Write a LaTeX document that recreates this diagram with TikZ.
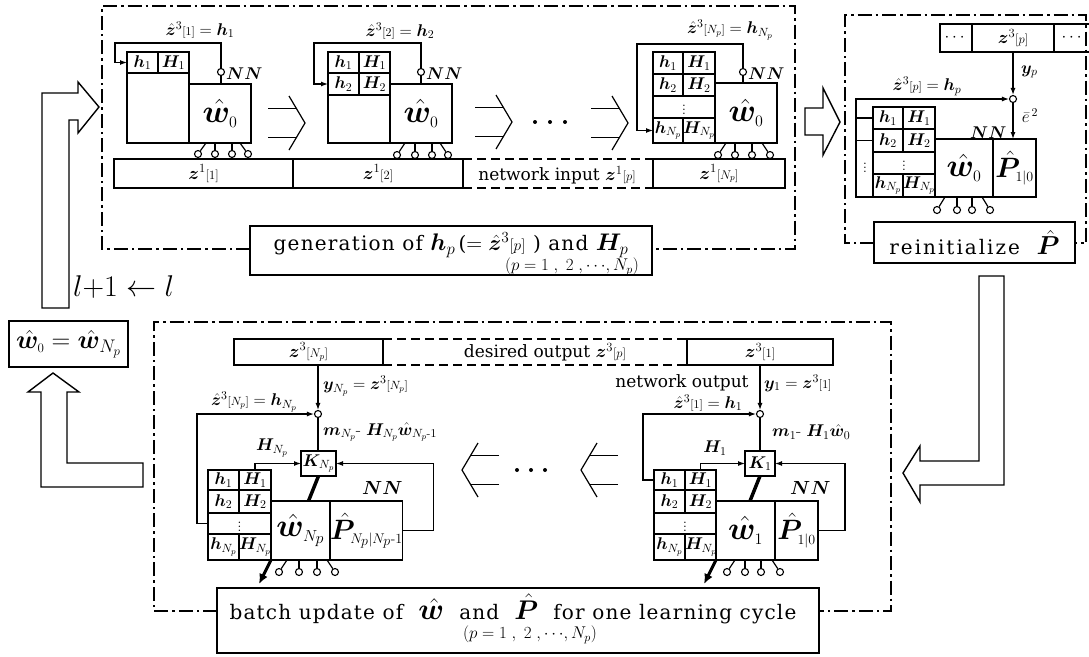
\RequirePackage{fix-cm}
\documentclass[tikz,border=0pt]{standalone}
\usepackage{amsmath,bm}
\usepackage{fontspec}
\usetikzlibrary{arrows.meta}

\newfontfamily\capfont{DejaVu Serif}[LetterSpace=6]
\newfontfamily\wcapfont{DejaVu Serif}[LetterSpace=10]
\newfontfamily\lblfont{DejaVu Serif}

\newcommand\fsz[1]{\fontsize{#1}{#1}\selectfont}
\newcommand\ix[1]{{\scriptstyle[#1]}}
\newcommand\hz{\hat{\bm z}}
\newcommand\hw{\hat{\bm w}}
\newcommand\hP{\hat{\bm P}}

\tikzset{
  ln/.style={line width=1.2pt},
  cellbox/.style={draw, line width=1.2pt, inner sep=0pt, outer sep=0pt,
    anchor=north west, font=\fsz{17}},
  fb/.style={line width=1.2pt, -{Latex[length=7pt,width=5pt]}},
  junc/.style={circle, draw, line width=1.1pt, fill=white, inner sep=0pt,
    minimum size=7pt},
  frm/.style={line width=1.3pt, dash pattern=on 14pt off 4pt on 2.5pt off 4pt},
  dsh/.style={line width=1.3pt, dash pattern=on 9pt off 5pt},
  hollow/.style={draw, line width=1.4pt, fill=white, line join=miter},
  lab/.style={inner sep=0pt, font=\fsz{17}},
  nnlab/.style={inner sep=0pt, font=\fsz{17}, anchor=west},
  capbox/.style={draw, line width=1.3pt, fill=white, inner sep=0pt,
    outer sep=0pt, anchor=north west},
  captext/.style={inner sep=0pt, font=\capfont\fsz{20}},
  subtext/.style={inner sep=0pt, font=\fsz{17}},
  txt/.style={inner sep=0pt, font=\lblfont\fsz{17}},
  dot/.style={circle, fill, inner sep=0pt, minimum size=4pt},
  thick link/.style={line width=3.5pt},
  out arrow/.style={line width=3pt, -{Latex[length=10pt,width=9pt]}},
}
% rectangle node given by its corners
\newcommand\tcell[6]{\node[cellbox, minimum width={#4-#2}, minimum height={#5-#3}] (#1) at (#2,#3) {#6};}
% four output neurons under a weight box
\newcommand\neurons[7]{%
  \node[junc] (#1a) at (#4,#3) {};
  \node[junc] (#1b) at (#5,#3) {};
  \node[junc] (#1c) at (#6,#3) {};
  \node[junc] (#1d) at (#7,#3) {};
  \draw[ln] (#4+8,#2) -- (#1a);
  \draw[ln] (#5,#2) -- (#1b);
  \draw[ln] (#6,#2) -- (#1c);
  \draw[ln] (#7-8,#2) -- (#1d);}
% open chevron arrows
\newcommand\chevR[2]{%
  \draw[ln] (#1-16,#2-27) -- (#1,#2) -- (#1-16,#2+27);
  \draw[ln] (#1-37,#2-14.5) -- (#1-8.4,#2-14.5);
  \draw[ln] (#1-37,#2+14.5) -- (#1-8.4,#2+14.5);}
\newcommand\chevL[2]{%
  \draw[ln] (#1+16,#2-27) -- (#1,#2) -- (#1+16,#2+27);
  \draw[ln] (#1+37,#2-14.5) -- (#1+8.4,#2-14.5);
  \draw[ln] (#1+37,#2+14.5) -- (#1+8.4,#2+14.5);}
\newcommand\plist{$(p=1\;,\;2\;,\cdots\!,N_p)$}

\begin{document}
\begin{tikzpicture}[x=1pt,y=-1pt]
\useasboundingbox (0,0) rectangle (1089,656);
\fill[white] (0,0) rectangle (1089,656);

% ================= generation of h_p and H_p =================
\draw[frm] (250,249) -- (102,249) -- (102,6) -- (795,6) -- (795,249) -- (652,249);
\node[capbox, minimum width=402, minimum height=49] (gen) at (250,226) {};
\node[captext] (gent) at (451,245)
  {generation of {\fsz{24}$\bm h_p$}\,({\fsz{22}$=\hz^{3}\ix{p}$} ) and {\fsz{24}$\bm H_p$}};
\node[subtext] (gens) at (572,267) {\plist};

% block p = 1
\tcell{a1h}{127}{52}{158}{73}{$\bm h_{1}$}
\tcell{a1H}{158}{52}{189}{73}{$\bm H_{1}$}
\tcell{a1e}{127}{73}{189}{143}{}
\tcell{aW}{189}{84}{251}{143}{\fsz{32}$\hw_{\scriptscriptstyle 0}$}
\node[junc] (aJ) at (221,72) {};
\draw[ln] (aJ) -- (aJ |- aW.north);
\node[nnlab] (aN) at (226,74) {$\bm{NN}$};
\draw[fb] (aJ.north) |- (115,43) |- (a1h.west);
\node[lab] (aL) at (200,30) {$\hz^{3}\ix{1} = \bm h_{1}$};
\neurons{an}{143}{154}{198}{215}{232}{248}
\chevR{305}{123}

% block p = 2
\tcell{b1h}{328}{52}{359}{73}{$\bm h_{1}$}
\tcell{b1H}{359}{52}{390}{73}{$\bm H_{1}$}
\tcell{b2h}{328}{73}{359}{95}{$\bm h_{2}$}
\tcell{b2H}{359}{73}{390}{95}{$\bm H_{2}$}
\tcell{b2e}{328}{95}{390}{143}{}
\tcell{bW}{390}{84}{452}{143}{\fsz{32}$\hw_{\scriptscriptstyle 0}$}
\node[junc] (bJ) at (421,72) {};
\draw[ln] (bJ) -- (bJ |- bW.north);
\node[nnlab] (bN) at (426,74) {$\bm{NN}$};
\draw[fb] (bJ.north) |- (314,43) |- (b2h.west);
\node[lab] (bL) at (400,31) {$\hz^{3}\ix{2} = \bm h_{2}$};
\neurons{bn}{143}{155}{397}{415}{432}{448}
\chevR{512}{122}
\foreach \d [count=\k] in {535,550,565} \node[dot] (td\k) at (\d,122) {};
\chevR{628}{123}

% block p = N_p
\tcell{c1h}{653}{52}{683}{74}{$\bm h_{1}$}
\tcell{c1H}{683}{52}{715}{74}{$\bm H_{1}$}
\tcell{c2h}{653}{74}{683}{96}{$\bm h_{2}$}
\tcell{c2H}{683}{74}{715}{96}{$\bm H_{2}$}
\tcell{c3}{653}{96}{715}{118}{$\vdots$}
\tcell{cNh}{653}{118}{683}{143}{$\bm h_{N_p}$}
\tcell{cNH}{683}{118}{715}{143}{$\bm H_{N_p}$}
\tcell{cW}{715}{83}{777}{143}{\fsz{32}$\hw_{\scriptscriptstyle 0}$}
\node[junc] (cJ) at (743,72) {};
\draw[ln] (cJ) -- (cJ |- cW.north);
\node[nnlab] (cN) at (748,74) {$\bm{NN}$};
\draw[fb] (cJ.north) |- (637,44) |- (cNh.west);
\node[lab] (cL) at (730,30) {$\hz^{3}\ix{N_p} = \bm h_{N_p}$};
\neurons{cn}{143}{155}{718}{735}{752}{770}

% network input strip
\tcell{z11}{114}{159}{293}{188}{\fsz{18}$\bm z^{1}\ix{1}$}
\tcell{z12}{293}{159}{463}{188}{\fsz{18}$\bm z^{1}\ix{2}$}
\draw[dsh] (z12.north east) -- (653,159);
\draw[dsh] (z12.south east) -- (653,188);
\node[txt] (zin) at (557,175) {network input {\fsz{18}$\bm z^{1}\ix{p}$}};
\tcell{z1N}{653}{159}{785}{188}{\fsz{18}$\bm z^{1}\ix{N_p}$}

% hollow arrow to the reinitialization stage
\draw[hollow] (805,108) -- (823,108) -- (823,88) -- (840,122) -- (823,155) -- (823,135) -- (805,135) -- cycle;

% ================= reinitialize P =================
\draw[frm] (874,243) -- (845,243) -- (845,15) -- (1086,15) -- (1086,243) -- (1075,243);
\node[capbox, minimum width=201, minimum height=41] (rein) at (874,222)
  {\wcapfont\fsz{20}reinitialize\ \ {\fsz{26}$\hP$}};

\tcell{r3a}{940}{24}{972}{52}{$\cdots$}
\tcell{r3p}{972}{24}{1054}{52}{\fsz{18}$\bm z^{3}\ix{p}$}
\tcell{r3b}{1054}{24}{1100}{52}{}
\node[lab] (r3bt) at (1073,38) {$\cdots$};

\node[junc] (rJ) at (1013,99) {};
\draw[fb] (r3p.south) -- (rJ);
\node[lab, anchor=west] (ryp) at (1021,72) {$\bm y_{p}$};
\node[lab] (rL) at (927,86) {$\hz^{3}\ix{p} = \bm h_{p}$};
\tcell{r1h}{873}{107}{903}{129}{$\bm h_{1}$}
\tcell{r1H}{903}{107}{935}{129}{$\bm H_{1}$}
\tcell{r2h}{873}{129}{903}{152}{$\bm h_{2}$}
\tcell{r2H}{903}{129}{935}{152}{$\bm H_{2}$}
\tcell{r3}{873}{152}{935}{174}{$\vdots$}
\tcell{rNh}{873}{174}{903}{197}{$\bm h_{N_p}$}
\tcell{rNH}{903}{174}{935}{197}{$\bm H_{N_p}$}
\tcell{rW}{935}{139}{993}{197}{\fsz{32}$\hw_{\scriptscriptstyle 0}$}
\tcell{rP}{993}{139}{1036}{197}{\fsz{28}$\hP_{\scriptscriptstyle 1|0}$}
\draw[fb] (rNh.south west) -- ++(-17,0) |- (rJ);
\draw[ln] (r1h.west) -- ++(-17,0);
\draw[ln] (r2h.west) -- ++(-17,0);
\node[lab] (rdots) at (865,165) {$\vdots$};
\draw[fb] (rJ) -- (rJ |- rP.north);
\node[lab] (re) at (1030,116) {$\bar{e}^{\,2}$};
\node[nnlab] (rN) at (970,133) {$\bm{NN}$};
\neurons{rn}{197}{210}{937}{957}{972}{990}

% hollow arrow down to the batch update stage
\draw[hollow] (979,276) -- (1004,276) -- (1004,485) -- (920,485) -- (920,502) -- (903,473) -- (920,446) -- (920,461) -- (979,461) -- cycle;

% ================= batch update =================
\draw[frm] (217,611) -- (154,611) -- (154,322) -- (891,322) -- (891,611) -- (819,611);
\node[capbox, minimum width=602, minimum height=65] (batch) at (217,588) {};
\node[captext] (batt) at (513,609)
  {batch update of\ \ {\fsz{30}$\hw$}\ \ and\ \ {\fsz{27}$\hP$}\ \ for one learning cycle};
\node[subtext] (bats) at (530,635) {\plist};

% desired output strip
\tcell{z3N}{234}{339}{383}{365}{\fsz{18}$\bm z^{3}\ix{N_p}$}
\draw[dsh] (z3N.north east) -- (687,339);
\draw[dsh] (z3N.south east) -- (687,365);
\node[txt] (zdes) at (545,352) {desired output {\fsz{18}$\bm z^{3}\ix{p}$}};
\tcell{z31}{687}{339}{833}{365}{\fsz{18}$\bm z^{3}\ix{1}$}

% update step p = 1
\node[junc] (eJ) at (760,414) {};
\draw[fb] (z31.south) -- (eJ);
\node[txt] (eout) at (682,383) {network output};
\node[lab, anchor=west] (ey) at (764,383) {$\bm y_{1} = \bm z^{3}\ix{1}$};
\node[lab] (eL) at (708,403) {$\hz^{3}\ix{1} = \bm h_{1}$};
\node[lab, anchor=west] (em) at (772,432) {$\bm m_{1}\text{-}\ \bm H_{1}\hat{\bm w}_{0}$};
\tcell{eK}{745}{451}{775}{476}{$\bm K_{1}$}
\draw[ln] (eJ) -- (eK.north);
\tcell{e1h}{654}{470}{685}{490}{$\bm h_{1}$}
\tcell{e1H}{685}{470}{716}{490}{$\bm H_{1}$}
\tcell{e2h}{654}{490}{685}{513}{$\bm h_{2}$}
\tcell{e2H}{685}{490}{716}{513}{$\bm H_{2}$}
\tcell{e3}{654}{513}{716}{534}{$\vdots$}
\tcell{eNh}{654}{534}{685}{560}{$\bm h_{N_p}$}
\tcell{eNH}{685}{534}{716}{560}{$\bm H_{N_p}$}
\tcell{eW}{716}{501}{775}{560}{\fsz{32}$\hw_{\scriptscriptstyle 1}$}
\tcell{eP}{775}{501}{818}{560}{\fsz{28}$\hP_{\scriptscriptstyle 1|0}$}
\draw[fb] (e1h.west) -- ++(-11,0) |- (eJ);
\draw[fb] (e1H.north) |- (eK.west);
\node[lab] (eHl) at (715,448) {$\bm H_{1}$};
\draw[fb] (eP.east) -- ++(27,0) |- (eK.east);
\node[nnlab] (eN) at (790,488) {\fsz{19}$\bm{NN}$};
\draw[thick link] (eK.south) -- ++(-10,25);
\draw[out arrow] (eW.south west) -- ++(-12,24);
\neurons{en}{560}{572}{727}{745}{761}{780}

\chevL{462}{470}
\foreach \d [count=\k] in {517,531,545} \node[dot] (bd\k) at (\d,470) {};
\chevL{581}{470}

% update step p = N_p
\node[junc] (fJ) at (318,414) {};
\draw[fb] (fJ |- z3N.south) -- (fJ);
\node[lab, anchor=west] (fy) at (323,386) {$\bm y_{N_p} = \bm z^{3}\ix{N_p}$};
\node[lab] (fL) at (254,402) {$\hz^{3}\ix{N_p} = \bm h_{N_p}$};
\node[lab, anchor=west] (fm) at (323,432) {$\bm m_{N_p}\text{-}\ \bm H_{N_p}\hat{\bm w}_{N_p\text{-}1}$};
\tcell{fK}{301}{451}{336}{476}{$\bm K_{N_p}$}
\draw[ln] (fJ) -- (fJ |- fK.north);
\tcell{f1h}{208}{470}{239}{490}{$\bm h_{1}$}
\tcell{f1H}{239}{470}{271}{490}{$\bm H_{1}$}
\tcell{f2h}{208}{490}{239}{513}{$\bm h_{2}$}
\tcell{f2H}{239}{490}{271}{513}{$\bm H_{2}$}
\tcell{f3}{208}{513}{271}{534}{$\vdots$}
\tcell{fNh}{208}{534}{239}{560}{$\bm h_{N_p}$}
\tcell{fNH}{239}{534}{271}{560}{$\bm H_{N_p}$}
\tcell{fW}{271}{501}{330}{560}{\fsz{32}$\hw_{\scriptscriptstyle N_p}$}
\tcell{fP}{330}{501}{399}{560}{\fsz{28}$\hP_{\scriptscriptstyle N_p|N_p\text{-}1}$}
\draw[fb] (f3.west) -- ++(-11,0) |- (fJ);
\draw[fb] (f1H.north) |- (fK.west);
\node[lab] (fHl) at (272,448) {$\bm H_{N_p}$};
\draw[fb] (fP.east) -- ++(31,0) |- (fK.east);
\node[nnlab] (fN) at (362,488) {\fsz{19}$\bm{NN}$};
\draw[thick link] (fK.south) -- ++(-10,25);
\draw[out arrow] (fW.south west) -- ++(-12,24);
\neurons{fn}{560}{572}{279}{299}{317}{335}

% ================= learning cycle loop =================
\draw[hollow] (42,308) -- (42,93) -- (78,93) -- (78,82) -- (99,107) -- (78,133) -- (78,120) -- (69,120) -- (69,308) -- cycle;
\node[inner sep=0pt, font=\fsz{30}, anchor=west] (loop) at (73,287) {$l{+}1 \leftarrow l$};
\node[capbox, minimum width=119, minimum height=46] (wN) at (9,321)
  {\fsz{26}$\hw_{\scriptscriptstyle 0} = \hw_{N_p}$};
\draw[hollow] (53,373) -- (79,392) -- (67,392) -- (67,463) -- (143,463) -- (143,487) -- (41,487) -- (41,392) -- (28,392) -- cycle;
\end{tikzpicture}
\end{document}
